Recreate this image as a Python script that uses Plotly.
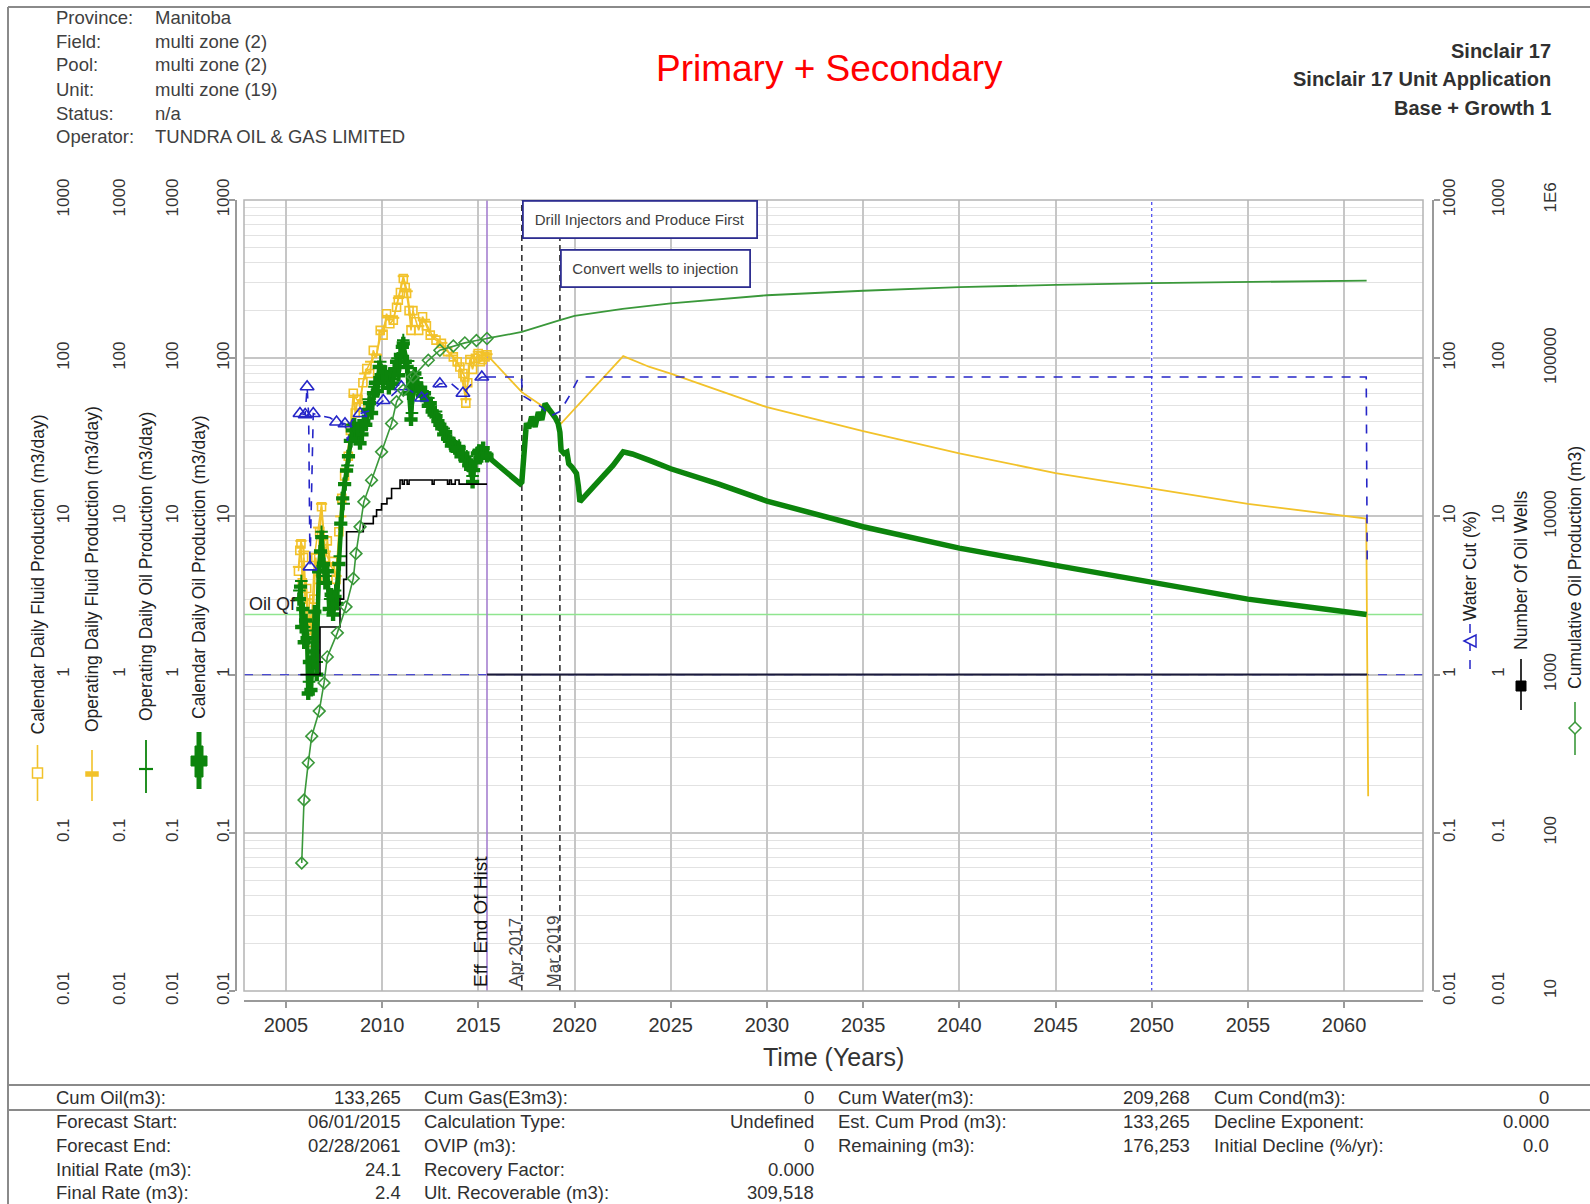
import math
import plotly.graph_objects as go

W, H = 1590, 1204
FONT = "Liberation Sans, Arial, sans-serif"

# ---------------- data ----------------
X_RANGE = [2002.82, 2064.1]
year_ticks = [2005, 2010, 2015, 2020, 2025, 2030, 2035, 2040, 2045, 2050, 2055, 2060]
rate_ticks = [0.01, 0.1, 1, 10, 100, 1000]
rate_tick_text = ["0.01", "0.1", "1", "10", "100", "1000"]
cum_ticks = [10, 100, 1000, 10000, 100000, 1000000]
cum_tick_text = ["10", "100", "1000", "10000", "100000", "1E6"]

# Calendar Daily Oil Production (m3/day)
cal_oil_hist_t = [2005.70, 2005.76, 2005.82, 2005.88, 2005.95, 2006.02, 2006.10, 2006.16, 2006.22, 2006.30,
                  2006.40, 2006.50, 2006.60, 2006.70, 2006.80, 2006.86, 2006.95, 2007.05, 2007.15, 2007.25,
                  2007.35, 2007.45, 2007.55, 2007.65, 2007.75, 2007.85, 2007.95, 2008.05, 2008.15, 2008.25,
                  2008.35, 2008.45, 2008.55, 2008.65, 2008.75, 2008.85, 2008.95, 2009.05, 2009.15, 2009.25,
                  2009.35, 2009.45, 2009.55, 2009.65, 2009.75, 2009.85, 2009.95, 2010.05, 2010.15, 2010.25,
                  2010.35, 2010.45, 2010.55, 2010.65, 2010.75, 2010.85, 2010.95, 2011.05, 2011.10, 2011.20,
                  2011.30, 2011.40, 2011.50, 2011.60, 2011.70, 2011.80, 2011.90, 2012.00, 2012.10, 2012.20,
                  2012.30, 2012.40, 2012.50, 2012.60, 2012.70, 2012.80, 2012.90, 2013.00, 2013.10, 2013.20,
                  2013.30, 2013.40, 2013.50, 2013.60, 2013.70, 2013.80, 2013.90, 2014.00, 2014.10, 2014.20,
                  2014.30, 2014.40, 2014.50, 2014.60, 2014.70, 2014.75, 2014.85, 2014.95, 2015.05, 2015.15,
                  2015.25, 2015.35, 2015.45]
cal_oil_hist_v = [3.0, 3.6, 2.0, 2.6, 1.6, 2.2, 1.7, 0.76, 1.2, 0.8,
                  1.4, 2.5, 1.0, 4.5, 6.0, 7.4, 5.0, 3.8, 4.5, 2.6,
                  3.2, 2.4, 3.1, 2.8, 5.0, 9.0, 13, 16, 19.5, 24,
                  30, 35, 38, 31, 36, 29, 33, 40, 38, 47,
                  52, 45, 60, 70, 62, 88, 78, 70, 82, 76,
                  65, 80, 69, 85, 95, 78, 105, 118, 124, 95,
                  88, 60, 41, 72, 80, 69, 62, 65, 58, 60,
                  55, 50, 52, 46, 44, 43, 40, 38, 36, 33,
                  34, 31, 30, 28, 29, 27, 26, 27, 24, 25,
                  23, 22.6, 21, 20, 16.5, 19.6, 22, 25, 26, 24,
                  27, 25, 24.1]
cal_oil_fc_t = [2015.45, 2017.17, 2017.26, 2017.42, 2017.50, 2017.62, 2017.77, 2017.95, 2018.12, 2018.30,
                2018.47, 2018.65, 2018.80, 2019.00, 2019.15, 2019.24, 2019.30, 2019.45, 2019.60, 2019.70,
                2019.85, 2020.00, 2020.10, 2020.20, 2020.28, 2021.00, 2022.00, 2022.53, 2023.00, 2023.90,
                2025.00, 2027.50, 2030.00, 2035.00, 2040.00, 2045.00, 2050.00, 2055.00, 2061.17]
cal_oil_fc_v = [24.1, 16.1, 16.5, 36.8, 38.9, 36.0, 42.7, 36.8, 45.7, 40.7,
                51.7, 48.0, 45.7, 42.0, 38.6, 34.0, 26.2, 25.0, 25.5, 21.5,
                20.6, 19.5, 18.7, 15.5, 12.4, 15.5, 21.0, 25.6, 24.8, 22.6,
                20.0, 16.0, 12.5, 8.6, 6.3, 4.9, 3.8, 3.0, 2.4]

# Operating Daily Oil Production (m3/day)
op_oil_t = [2005.70, 2005.80, 2005.95, 2006.10, 2006.20, 2006.40, 2006.60, 2006.85, 2007.05, 2007.30,
            2007.55, 2007.80, 2008.00, 2008.20, 2008.45, 2008.70, 2008.95, 2009.30, 2009.60, 2009.90,
            2010.20, 2010.50, 2010.80, 2011.10, 2011.35, 2011.55, 2011.80, 2012.10, 2012.40, 2012.80,
            2013.20, 2013.60, 2014.00, 2014.40, 2014.70, 2015.00, 2015.45]
op_oil_v = [3.4, 3.9, 2.0, 1.9, 0.9, 1.6, 1.2, 8.0, 4.2, 3.0,
            3.4, 5.6, 12.0, 21, 38, 34, 36, 55, 66, 95,
            82, 74, 100, 130, 96, 45, 75, 62, 56, 46,
            36, 30, 28, 24, 18, 26, 25]

# Calendar Daily Fluid Production (m3/day)
cal_fluid_hist_t = [2005.65, 2005.72, 2005.78, 2005.85, 2005.92, 2006.00, 2006.08, 2006.16, 2006.25, 2006.35,
                    2006.45, 2006.55, 2006.65, 2006.75, 2006.85, 2006.95, 2007.05, 2007.15, 2007.30, 2007.45,
                    2007.60, 2007.75, 2007.90, 2008.05, 2008.24, 2008.35, 2008.50, 2008.60, 2008.75, 2008.85,
                    2009.00, 2009.20, 2009.35, 2009.54, 2009.70, 2009.90, 2010.05, 2010.23, 2010.40, 2010.58,
                    2010.75, 2010.84, 2010.95, 2011.10, 2011.20, 2011.27, 2011.40, 2011.50, 2011.60, 2011.75,
                    2011.90, 2012.10, 2012.30, 2012.50, 2012.80, 2013.08, 2013.40, 2013.70, 2013.90, 2014.04,
                    2014.20, 2014.30, 2014.35, 2014.45, 2014.56, 2014.70, 2014.85, 2014.99, 2015.10, 2015.20,
                    2015.35, 2015.45]
cal_fluid_hist_v = [4.5, 6.1, 6.7, 3.8, 5.5, 2.8, 3.5, 2.0, 2.4, 1.6,
                    3.0, 5.5, 4.0, 8.0, 11.5, 6.7, 5.5, 7.0, 4.8, 5.2,
                    4.0, 8.0, 13, 18, 24, 35, 60, 45, 55, 49,
                    70, 86, 80, 112, 100, 150, 140, 191, 165, 174,
                    210, 233, 260, 319, 280, 257, 200, 150, 200, 170,
                    150, 183, 160, 140, 130, 124, 110, 102, 95, 88,
                    80, 76, 52, 70, 98, 85, 100, 107, 95, 98,
                    102, 105]
cal_fluid_fc_t = [2015.45, 2017.26, 2018.30, 2019.30, 2022.53, 2023.90, 2025.00, 2030.00, 2035.00, 2040.00,
                  2045.00, 2050.00, 2055.00, 2061.15, 2061.25]
cal_fluid_fc_v = [105, 61, 50, 38.6, 103, 88, 80, 49, 34.6, 25,
                  18.8, 15.1, 12.0, 9.7, 0.17]

# Operating Daily Fluid Production (m3/day)
op_fluid_t = [2005.65, 2005.78, 2005.92, 2006.05, 2006.16, 2006.30, 2006.50, 2006.70, 2006.85, 2007.05,
              2007.30, 2007.60, 2007.85, 2008.10, 2008.35, 2008.55, 2008.80, 2009.10, 2009.40, 2009.70,
              2010.00, 2010.30, 2010.60, 2010.85, 2011.10, 2011.30, 2011.55, 2011.90, 2012.20, 2012.60,
              2013.10, 2013.60, 2014.00, 2014.35, 2014.60, 2015.00, 2015.45]
op_fluid_v = [4.8, 7.0, 6.0, 3.0, 2.2, 1.8, 5.8, 8.5, 12.0, 6.0,
              5.0, 4.2, 10.0, 20, 38, 58, 52, 80, 95, 105,
              150, 185, 180, 240, 330, 265, 160, 160, 175, 140,
              125, 104, 90, 55, 100, 110, 106]

# Water Cut (%)
wc_hist_t = [2005.73, 2006.00, 2006.10, 2006.18, 2006.25, 2006.42, 2006.90, 2007.30, 2007.63, 2008.07,
             2008.20, 2008.40, 2008.85, 2009.50, 2010.06, 2010.50, 2011.00, 2011.50, 2012.05, 2012.50,
             2013.00, 2013.60, 2014.20, 2014.70, 2015.18, 2015.45]
wc_hist_v = [44.7, 44, 66, 44, 4.8, 44.7, 43, 42, 39.5, 38.5,
             30, 40, 44.7, 47, 54, 58, 66, 62, 56, 62,
             69, 69, 60, 70, 76, 76]
wc_marker_t = [2005.73, 2006.00, 2006.10, 2006.25, 2006.42, 2007.63, 2008.07, 2008.85, 2010.06, 2011.00,
               2012.05, 2013.00, 2014.20, 2015.18]
wc_marker_v = [44.7, 44, 66, 4.8, 44.7, 39.5, 38.5, 44.7, 54, 66,
               56, 69, 60, 76]
wc_fc_t = [2015.45, 2017.24, 2017.30, 2018.30, 2018.72, 2019.24, 2019.67, 2020.20, 2020.40, 2061.15, 2061.20]
wc_fc_v = [76, 76, 58, 49, 43, 46, 56, 74.5, 76, 76, 5]

# Number Of Oil Wells
wells_hist_t = [2005.75, 2006.77, 2007.81, 2008.00, 2008.15, 2009.02, 2009.54, 2009.71, 2009.97, 2010.25,
                2010.49, 2010.93, 2011.05, 2011.15, 2011.30, 2011.40, 2012.60, 2012.70, 2013.40, 2013.50,
                2013.60, 2013.80, 2014.00, 2014.15, 2015.45]
wells_hist_v = [1, 2, 3, 4, 8, 9, 10, 11, 12, 13,
                15, 17, 16, 17, 16, 17, 16, 17, 16, 17,
                16, 17, 16, 16, 16]
wells_fc_t = [2015.45, 2061.20]
wells_fc_v = [1, 1]

# Cumulative Oil Production (m3)
cum_hist_t = [2005.82, 2005.94, 2006.16, 2006.34, 2006.73, 2006.98, 2007.15, 2007.67, 2008.12, 2008.50,
              2008.64, 2008.85, 2009.05, 2009.45, 2009.97, 2010.49, 2010.75, 2011.10, 2011.60, 2012.40,
              2013.00, 2013.70, 2014.30, 2014.90, 2015.45]
cum_hist_v = [64.5, 161, 277, 408, 588, 886, 1294, 1836, 2680, 4050,
              5820, 8590, 12360, 16950, 25600, 38650, 53000, 62800, 76250, 97000,
              112300, 119500, 125000, 129500, 133265]
cum_fc_t = [2015.45, 2017.26, 2019.24, 2020.00, 2022.50, 2025.00, 2030.00, 2035.00, 2040.00, 2045.00,
            2050.00, 2055.00, 2061.17]
cum_fc_v = [133265, 146500, 174000, 185000, 205000, 222000, 250000, 267000, 281000, 291000,
            298000, 304000, 309518]

# reference values / events
OIL_QF = 2.4
REF_ONE = 1
EFF_END_HIST = 2015.45
EVENT_APR_2017 = 2017.26
EVENT_MAR_2019 = 2019.24
MARK_2050 = 2050.0

header_labels = ["Province:", "Field:", "Pool:", "Unit:", "Status:", "Operator:"]
header_values = ["Manitoba", "multi zone (2)", "multi zone (2)", "multi zone (19)", "n/a",
                 "TUNDRA OIL & GAS LIMITED"]
header_right = ["Sinclair 17", "Sinclair 17 Unit Application", "Base + Growth 1"]

table_rows = [
    ["Cum Oil(m3):", "133,265", "Cum Gas(E3m3):", "0", "Cum Water(m3):", "209,268", "Cum Cond(m3):", "0"],
    ["Forecast Start:", "06/01/2015", "Calculation Type:", "Undefined", "Est. Cum Prod (m3):", "133,265",
     "Decline Exponent:", "0.000"],
    ["Forecast End:", "02/28/2061", "OVIP (m3):", "0", "Remaining (m3):", "176,253",
     "Initial Decline (%/yr):", "0.0"],
    ["Initial Rate (m3):", "24.1", "Recovery Factor:", "0.000", "", "", "", ""],
    ["Final Rate (m3):", "2.4", "Ult. Recoverable (m3):", "309,518", "", "", "", ""],
]

# ---------------- styling / geometry ----------------
YELLOW = "#f2c22a"
GREEN = "#0c840c"
CUMGREEN = "#3a983a"
BLUE = "#2626c8"
PLOT_L, PLOT_R, PLOT_T, PLOT_B = 244, 1423, 200, 991


def px(x):
    return x / W


def py(y):
    return 1 - y / H


fig = go.Figure()

# reference lines (drawn first, on the primary axis)
fig.add_trace(go.Scatter(x=X_RANGE, y=[REF_ONE, REF_ONE], mode="lines", yaxis="y", xaxis="x",
                         line=dict(color="#4a4ad0", width=1.2, dash="dash"), hoverinfo="skip"))
fig.add_trace(go.Scatter(x=X_RANGE, y=[OIL_QF, OIL_QF], mode="lines", yaxis="y",
                         line=dict(color="#8fe58f", width=1.6), hoverinfo="skip"))
fig.add_trace(go.Scatter(x=[MARK_2050, MARK_2050], y=[0.01, 1000], mode="lines", yaxis="y",
                         line=dict(color="white", width=2.5), hoverinfo="skip"))
fig.add_trace(go.Scatter(x=[MARK_2050, MARK_2050], y=[0.01, 1000], mode="lines", yaxis="y",
                         line=dict(color="#4040ee", width=1.2, dash="dot"), hoverinfo="skip"))
fig.add_trace(go.Scatter(x=[EFF_END_HIST, EFF_END_HIST], y=[0.01, 1000], mode="lines", yaxis="y",
                         line=dict(color="#a57fd0", width=1.6), hoverinfo="skip"))
for ev in (EVENT_APR_2017, EVENT_MAR_2019):
    fig.add_trace(go.Scatter(x=[ev, ev], y=[0.01, 1000], mode="lines", yaxis="y",
                             line=dict(color="#333333", width=1.6, dash="6px,4px"), hoverinfo="skip"))

# Calendar Daily Fluid (y)
fig.add_trace(go.Scatter(x=cal_fluid_fc_t, y=cal_fluid_fc_v, mode="lines", yaxis="y",
                         line=dict(color=YELLOW, width=1.8)))
fig.add_trace(go.Scatter(x=cal_fluid_hist_t, y=cal_fluid_hist_v, mode="lines+markers", yaxis="y",
                         line=dict(color=YELLOW, width=1.6),
                         marker=dict(symbol="square-open", size=8, color=YELLOW, line=dict(width=1.6))))
# Operating Daily Fluid (y2)
fig.add_trace(go.Scatter(x=op_fluid_t, y=op_fluid_v, mode="lines+markers", yaxis="y2",
                         line=dict(color=YELLOW, width=1.5),
                         marker=dict(symbol="line-ew", size=8, color=YELLOW, line=dict(width=2, color=YELLOW))))
# Operating Daily Oil (y3)
fig.add_trace(go.Scatter(x=op_oil_t, y=op_oil_v, mode="lines+markers", yaxis="y3",
                         line=dict(color=GREEN, width=2),
                         marker=dict(symbol="cross-thin", size=9, color=GREEN, line=dict(width=2, color=GREEN))))
# Calendar Daily Oil (y4)
fig.add_trace(go.Scatter(x=cal_oil_fc_t, y=cal_oil_fc_v, mode="lines", yaxis="y4",
                         line=dict(color=GREEN, width=5.5)))
fig.add_trace(go.Scatter(x=cal_oil_hist_t, y=cal_oil_hist_v, mode="lines+markers", yaxis="y4",
                         line=dict(color=GREEN, width=4.5),
                         marker=dict(symbol="cross", size=11, color=GREEN)))
# Water Cut (y5)
fig.add_trace(go.Scatter(x=wc_fc_t, y=wc_fc_v, mode="lines", yaxis="y5",
                         line=dict(color=BLUE, width=1.6, dash="dash")))
fig.add_trace(go.Scatter(x=wc_hist_t, y=wc_hist_v, mode="lines", yaxis="y5",
                         line=dict(color=BLUE, width=1.6, dash="dash")))
fig.add_trace(go.Scatter(x=wc_marker_t, y=wc_marker_v, mode="markers", yaxis="y5",
                         marker=dict(symbol="triangle-up-open", size=12, color=BLUE, line=dict(width=1.6))))
# Number of Oil Wells (y6)
fig.add_trace(go.Scatter(x=wells_hist_t, y=wells_hist_v, mode="lines", yaxis="y6",
                         line=dict(color="black", width=1.6, shape="hv")))
fig.add_trace(go.Scatter(x=wells_fc_t, y=wells_fc_v, mode="lines", yaxis="y6",
                         line=dict(color="#1a1a3a", width=2)))
# Cumulative Oil (y7)
fig.add_trace(go.Scatter(x=cum_fc_t, y=cum_fc_v, mode="lines", yaxis="y7",
                         line=dict(color=CUMGREEN, width=1.8)))
fig.add_trace(go.Scatter(x=cum_hist_t, y=cum_hist_v, mode="lines+markers", yaxis="y7",
                         line=dict(color=CUMGREEN, width=1.6),
                         marker=dict(symbol="diamond-open", size=9, color=CUMGREEN, line=dict(width=1.6))))

minor_vals = [m * 10 ** e for e in range(-2, 3) for m in range(2, 10)]
ydom = [py(PLOT_B), py(PLOT_T)]
tickfont = dict(family=FONT, size=17, color="#333333")


def yax(pos, side="left", line=False, cum=False, primary=False, standoff=None):
    d = dict(type="log", range=[1, 6] if cum else [-2, 3], domain=ydom, anchor="free", position=pos,
             side=side, tickmode="array", automargin=False,
             tickvals=cum_ticks if cum else rate_ticks,
             ticktext=cum_tick_text if cum else rate_tick_text,
             tickangle=-90, tickfont=tickfont, zeroline=False, showgrid=False,
             showline=line, linecolor="#9a9a9a", linewidth=2,
             ticks="outside" if line else "", ticklen=6, tickcolor="#9a9a9a", tickwidth=1.5)
    if standoff is not None:
        d["ticklabelstandoff"] = standoff
    if primary:
        d.update(showgrid=True, gridcolor="#c6c6c6", gridwidth=1.5,
                 minor=dict(tickmode="array", tickvals=minor_vals, showgrid=True,
                            gridcolor="#e2e2e2", gridwidth=1, ticks=""))
    else:
        d.update(overlaying="y")
    return d


fig.update_layout(
    width=W, height=H, margin=dict(l=0, r=0, t=0, b=0, autoexpand=False),
    paper_bgcolor="white", plot_bgcolor="white", showlegend=False,
    font=dict(family=FONT, color="#333333"),
    xaxis=dict(domain=[px(PLOT_L), px(PLOT_R)], anchor="free", position=py(1001), range=X_RANGE,
               automargin=False,
               tickmode="array", tickvals=year_ticks, tickfont=dict(family=FONT, size=20, color="#333333"),
               showline=True, linecolor="#9a9a9a", linewidth=2, ticks="outside", ticklen=6,
               tickcolor="#9a9a9a", tickwidth=1.5, showgrid=True, gridcolor="#c6c6c6", gridwidth=1.5,
               zeroline=False),
    yaxis=yax(px(72), primary=True),
    yaxis2=yax(px(128)),
    yaxis3=yax(px(181)),
    yaxis4=yax(px(236), line=True, standoff=-7),
    yaxis5=yax(px(1433), side="right", line=True, standoff=-5),
    yaxis6=yax(px(1486), side="right"),
    yaxis7=yax(px(1538), side="right", cum=True),
)

shapes = []
# plot frame
shapes.append(dict(type="rect", xref="paper", yref="paper", x0=px(PLOT_L), x1=px(PLOT_R), y0=py(PLOT_B),
                   y1=py(PLOT_T), line=dict(color="#b4b4b4", width=1.5), layer="above"))
# outer border and table rules
shapes.append(dict(type="line", xref="paper", yref="paper", x0=px(8), x1=1, y0=py(7), y1=py(7),
                   line=dict(color="#8a8a8a", width=2)))
shapes.append(dict(type="line", xref="paper", yref="paper", x0=px(8), x1=px(8), y0=py(7), y1=0,
                   line=dict(color="#8a8a8a", width=2)))
for yy in (1085, 1110):
    shapes.append(dict(type="line", xref="paper", yref="paper", x0=px(8), x1=1, y0=py(yy), y1=py(yy),
                       line=dict(color="#8a8a8a", width=2)))


def gl_line(x, y0, y1, color, width, dash=None):
    ln = dict(color=color, width=width)
    if dash:
        ln["dash"] = dash
    shapes.append(dict(type="line", xref="paper", yref="paper", x0=px(x), x1=px(x), y0=py(y0), y1=py(y1),
                       line=ln))


def gl_rect(x0, y0, x1, y1, color, fill, width=1.5):
    shapes.append(dict(type="rect", xref="paper", yref="paper", x0=px(x0), x1=px(x1), y0=py(y0), y1=py(y1),
                       line=dict(color=color, width=width), fillcolor=fill))


def gl_path(pts, color, fill, width=1.5):
    p = "M " + " L ".join(f"{px(a):.5f},{py(b):.5f}" for a, b in pts) + " Z"
    shapes.append(dict(type="path", xref="paper", yref="paper", path=p,
                       line=dict(color=color, width=width), fillcolor=fill))


# legend glyphs beside axis titles
gl_line(37.5, 745, 801, YELLOW, 1.6)
gl_rect(32.5, 768, 42.5, 778, YELLOW, "white")
gl_line(92, 750, 801, YELLOW, 1.6)
gl_rect(86, 772, 98, 776, YELLOW, YELLOW)
gl_line(146, 740, 793, GREEN, 1.8)
shapes.append(dict(type="line", xref="paper", yref="paper", x0=px(139), x1=px(153), y0=py(769), y1=py(769),
                   line=dict(color=GREEN, width=2.2)))
gl_line(199, 732, 789, GREEN, 5)
gl_rect(191, 756, 207, 766, GREEN, GREEN, 1)
gl_rect(195, 746, 203, 777, GREEN, GREEN, 1)
gl_line(1470, 624, 669, BLUE, 1.5, "dash")
gl_path([(1464, 641), (1476, 635), (1476, 647)], BLUE, "white")
gl_line(1521, 659, 710, "black", 1.6)
gl_rect(1516, 681, 1526, 691, "black", "black", 1)
gl_line(1575, 702, 755, CUMGREEN, 1.6)
gl_path([(1575, 722), (1581, 728), (1575, 734), (1569, 728)], CUMGREEN, "white")

fig.update_layout(shapes=shapes)

ann = []


def text(x, y, s, size=18, color="#333333", xanchor="left", yanchor="middle", angle=0, bold=False):
    ann.append(dict(xref="paper", yref="paper", x=px(x), y=py(y), text=f"<b>{s}</b>" if bold else s,
                    showarrow=False, xanchor=xanchor, yanchor=yanchor, textangle=angle,
                    font=dict(family=FONT, size=size, color=color)))


# header
header_y = [17.2, 41.6, 64.9, 89.2, 113.6, 136.9]
for lab, val, yy in zip(header_labels, header_values, header_y):
    text(54, yy, lab, 18.5, "#404040")
    text(153, yy, val, 18.5, "#404040")
for s, yy in zip(header_right, [50.7, 79.1, 107.5]):
    text(1553, yy, s, 20, "#303030", xanchor="right", bold=True)
text(829, 69, "Primary + Secondary", 37, "#ff0000", xanchor="center")

# axis titles
text(37.5, 575, "Calendar Daily Fluid Production (m3/day)", 17.5, "#222222", "center", angle=-90)
text(92, 569, "Operating Daily Fluid Production (m3/day)", 17.5, "#222222", "center", angle=-90)
text(146, 567, "Operating Daily Oil Production (m3/day)", 17.5, "#222222", "center", angle=-90)
text(199, 568, "Calendar Daily Oil Production (m3/day)", 17.5, "#222222", "center", angle=-90)
text(1470, 566, "Water Cut (%)", 17.5, "#222222", "center", angle=-90)
text(1521, 571, "Number Of Oil Wells", 17.5, "#222222", "center", angle=-90)
text(1575, 568, "Cumulative Oil Production (m3)", 17.5, "#222222", "center", angle=-90)
text(833, 1057, "Time (Years)", 25, "#333333", "center")

# table
col_label_x = [54, 422, 836, 1212]
col_value_x = [403, 816, 1192, 1551]
row_y = [1097, 1121.5, 1145, 1169, 1192.5]
for r, yy in zip(table_rows, row_y):
    for c in range(4):
        if r[2 * c]:
            text(col_label_x[c], yy, r[2 * c], 18.5, "#303030")
        if r[2 * c + 1]:
            text(col_value_x[c], yy, r[2 * c + 1], 18.5, "#303030", xanchor="right")

# plot annotations (data referenced)
ann.append(dict(xref="x", yref="y", x=X_RANGE[0], y=math.log10(OIL_QF), text="Oil Qf", showarrow=False,
                xanchor="left", yanchor="bottom", xshift=3, yshift=-2,
                font=dict(family=FONT, size=18, color="#222222")))
for ev, lab, size, col, sh in ((EFF_END_HIST, "Eff  End Of Hist", 19, "#111111", 6),
                               (EVENT_APR_2017, "Apr 2017", 17, "#444444", 5),
                               (EVENT_MAR_2019, "Mar 2019", 17, "#444444", 5)):
    ann.append(dict(xref="x", yref="y domain", x=ev, y=0, text=lab, showarrow=False, textangle=-90,
                    xanchor="right", yanchor="bottom", xshift=sh, yshift=2,
                    font=dict(family=FONT, size=size, color=col)))
ann.append(dict(xref="x", yref="y domain", x=EVENT_APR_2017, y=1, text="Drill Injectors and Produce First",
                showarrow=False, xanchor="left", yanchor="top", width=232, height=35, borderpad=0,
                bordercolor="#2e2e90", borderwidth=1.8, bgcolor="white",
                font=dict(family=FONT, size=15, color="#404040")))
ann.append(dict(xref="x", yref="y domain", x=EVENT_MAR_2019, y=(PLOT_B - 248.5) / (PLOT_B - PLOT_T),
                text="Convert wells to injection",
                showarrow=False, xanchor="left", yanchor="top", width=187, height=35, borderpad=0,
                bordercolor="#2e2e90", borderwidth=1.8, bgcolor="white",
                font=dict(family=FONT, size=15, color="#404040")))

fig.update_layout(annotations=ann)

fig.write_html("out.html", config={"displayModeBar": False},
               post_script="document.body.style.margin='0';document.body.style.overflow='hidden';")
